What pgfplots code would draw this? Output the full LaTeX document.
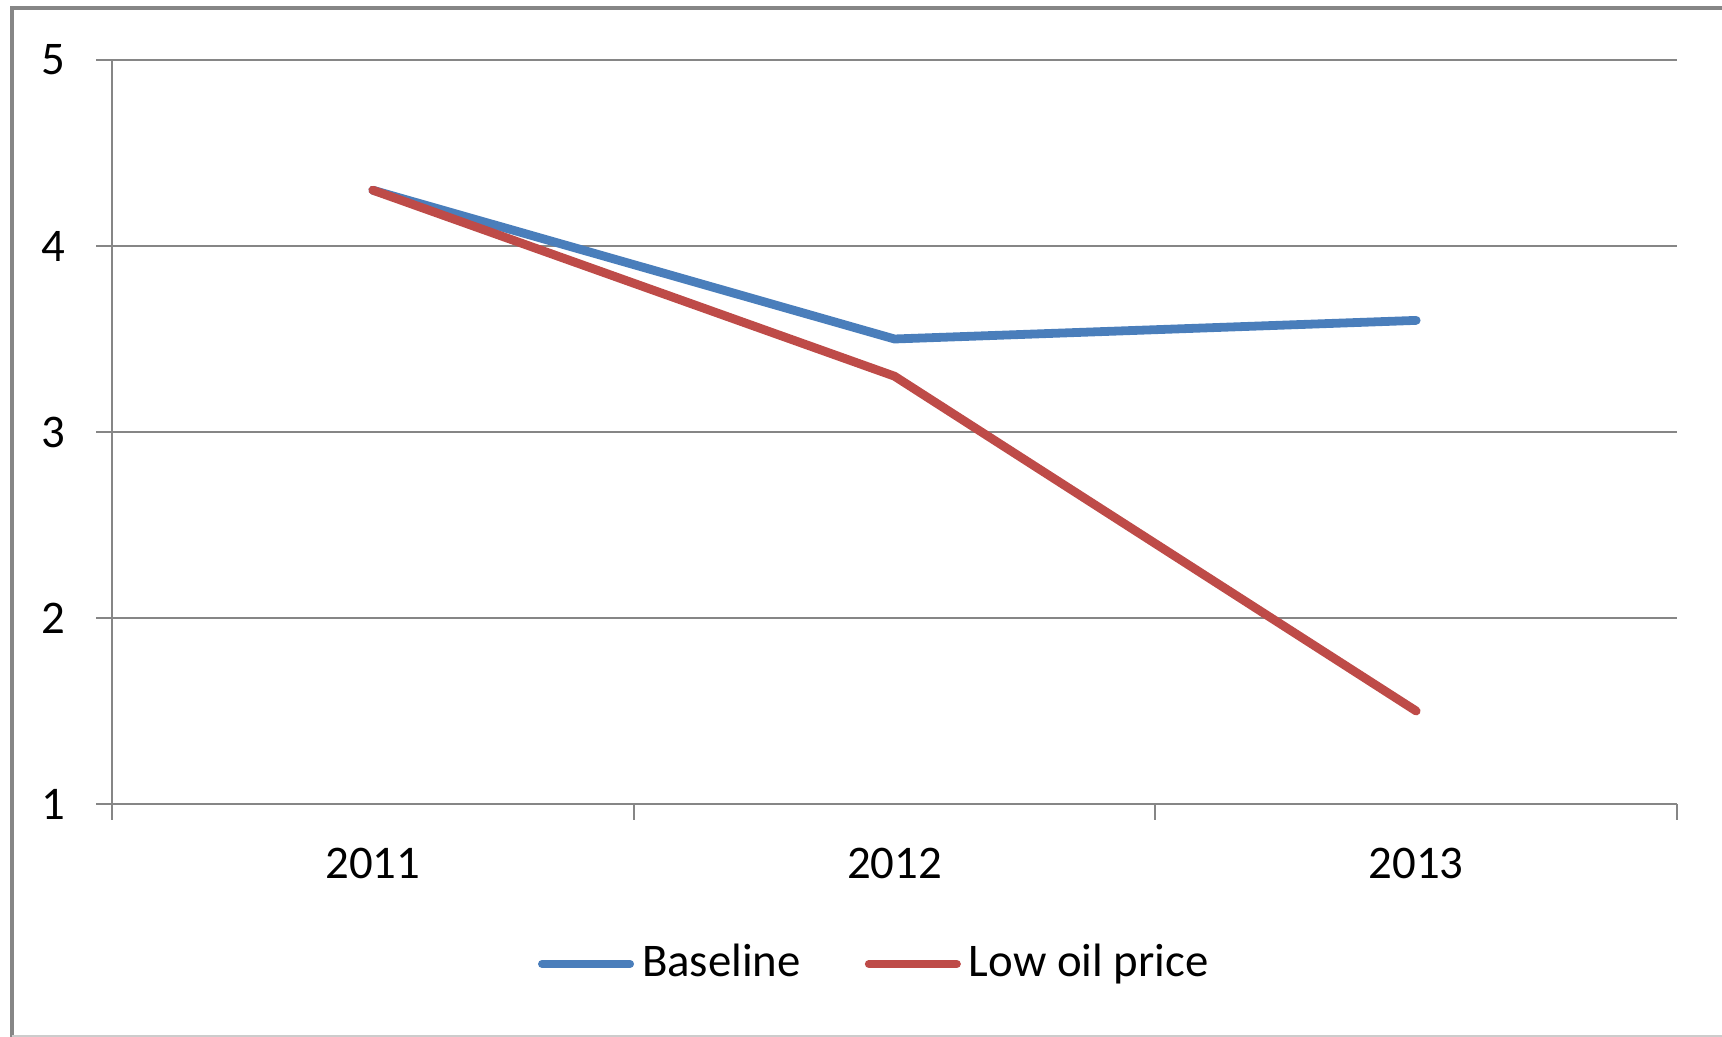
\documentclass[border=0pt]{standalone}
\usepackage{pgfplots}
\pgfplotsset{compat=1.18}
\usepackage{fontspec}
\setmainfont{Carlito}
\definecolor{cblue}{HTML}{4A7EBB}
\definecolor{cred}{HTML}{BE4B48}
\definecolor{cgrid}{HTML}{868686}
\begin{document}
\fontsize{11.7pt}{14pt}\selectfont
\begin{tikzpicture}
\path[use as bounding box] (0,0) rectangle (430.5pt,259.25pt);
\draw[color=cgrid, line width=0.8pt] (3pt,0) -- (3pt,257.25pt) -- (431pt,257.25pt);
\draw[color=gray!40, line width=0.4pt] (3pt,0.25pt) -- (431pt,0.25pt);
\begin{axis}[
  at={(28pt,58.25pt)}, anchor=south west,
  scale only axis, width=391.25pt, height=186pt,
  xmin=-0.5, xmax=2.5, ymin=1, ymax=5,
  ytick={1,2,3,4,5},
  xtick={-0.5,0.5,1.5,2.5}, xticklabels={},
  extra x ticks={0,1,2}, extra x tick labels={2011,2012,2013},
  extra x tick style={major tick length=0pt, grid=none},
  axis x line=bottom, axis y line=left,
  axis line style={-, color=cgrid, line width=0.5pt},
  tick style={color=cgrid, line width=0.5pt},
  tick align=outside, major tick length=4pt,
  ymajorgrids, grid style={color=cgrid, line width=0.5pt},
  /pgf/number format/assume math mode=true,
  tick label style={font=\fontsize{11.7pt}{14pt}\selectfont, text=black},
  yticklabel style={anchor=east, xshift=-3.7pt},
  xticklabel style={anchor=center, yshift=-14.8pt},
  legend columns=2,
  legend style={draw=none, fill=none, at={(0.489,-0.215)}, anchor=center,
    font=\fontsize{11.7pt}{14pt}\selectfont, column sep=0pt,
    /tikz/every even column/.append style={column sep=14pt}},
  legend image code/.code={\draw[#1, line cap=round, line width=2pt] (0pt,0pt) -- (22pt,0pt);},
  every axis plot/.append style={line width=2.2pt, line cap=round, line join=round},
]
\addplot[color=cblue, no markers] coordinates {(0,4.3) (1,3.5) (2,3.6)};
\addlegendentry{Baseline}
\addplot[color=cred, no markers] coordinates {(0,4.3) (1,3.3) (2,1.5)};
\addlegendentry{Low oil price}
\end{axis}
\end{tikzpicture}
\end{document}
